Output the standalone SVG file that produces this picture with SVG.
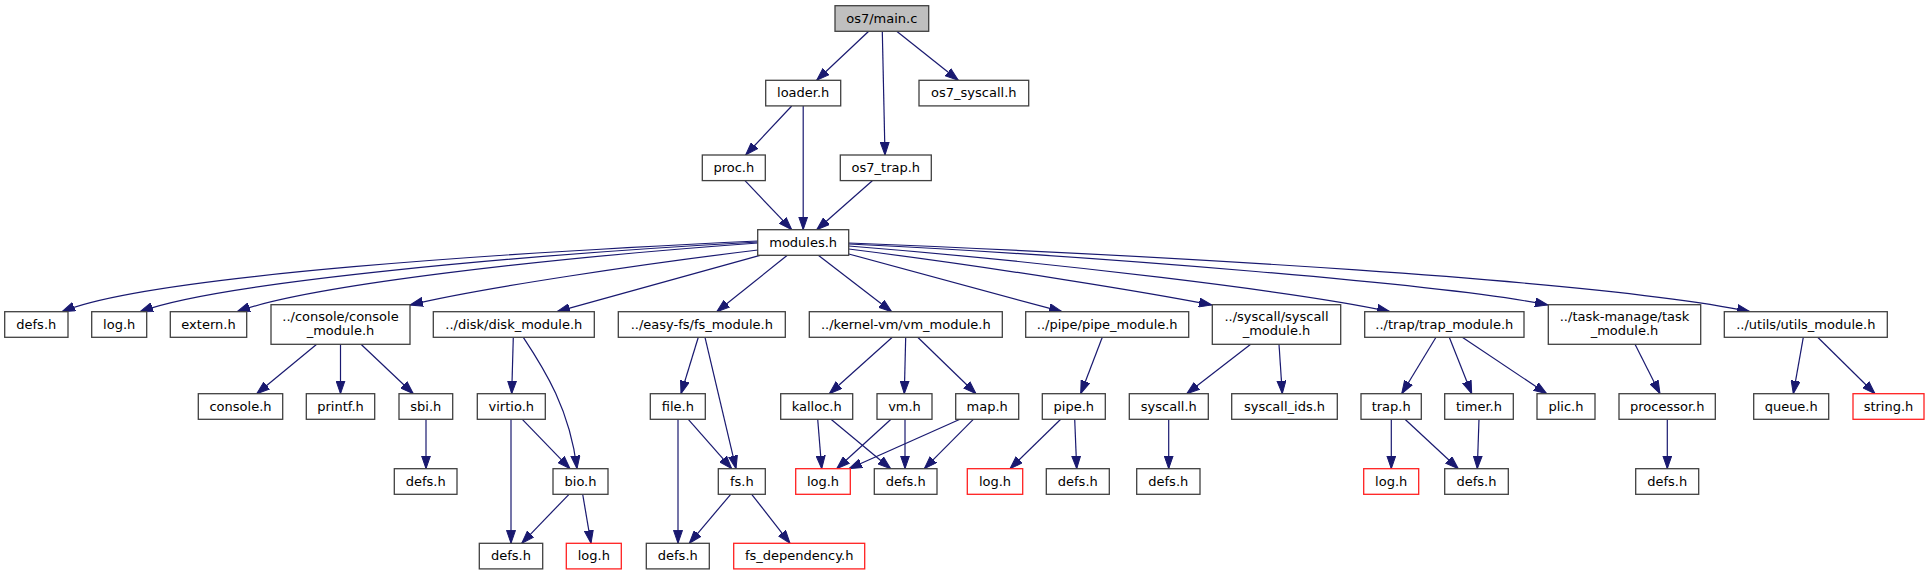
<svg xmlns="http://www.w3.org/2000/svg" width="1929" height="575" viewBox="0 0 1929 575">
<style>
.n rect{fill:#fff;stroke:#404040;stroke-width:1.3}
.n.m rect{fill:#bfbfbf}
.n.r rect{stroke:#ff2020}
.n text{font-family:"DejaVu Sans",sans-serif;font-size:13px;fill:#000;text-anchor:middle}
.e path{fill:none;stroke:#191970;stroke-width:1.2;marker-end:url(#ah)}
</style>
<defs>
<marker id="ah" markerUnits="userSpaceOnUse" viewBox="0 0 13 10" refX="13" refY="5" markerWidth="13" markerHeight="10" orient="auto">
<path d="M0,0.5 L13,5 L0,9.5 z" fill="#191970" stroke="#191970" stroke-width="1"/>
</marker>
</defs>
<rect width="1929" height="575" fill="#fff"/>
<g id="edges" class="e">
<path d="M868.7,31.3 L816.7,80.3"/>
<path d="M882.3,31.3 L885,155"/>
<path d="M896.7,31.3 L958.3,80.3"/>
<path d="M791.7,106 L745.7,155"/>
<path d="M803.2,106 L803.2,229.7"/>
<path d="M745,180.7 L791.7,229.7"/>
<path d="M872.3,180.7 L816.7,229.7"/>
<path d="M758,241 C520,252 150,275 62,311.7"/>
<path d="M758,242 C520,255 220,282 140,311.7"/>
<path d="M758,243 C550,258 310,285 237,311.7"/>
<path d="M758,250 C650,263 480,288 410,305"/>
<path d="M760,255.3 L557,311.7"/>
<path d="M787.3,255.3 L716.7,311.7"/>
<path d="M818.3,255.3 L891.7,311.7"/>
<path d="M848.7,254 L1062,311.7"/>
<path d="M848.7,249 C1000,268 1150,293 1212,305"/>
<path d="M848.7,246 C1050,262 1300,292 1390,311.7"/>
<path d="M848.7,244 C1100,256 1450,285 1548,305"/>
<path d="M848.7,243 C1150,255 1600,280 1750,311.7"/>
<path d="M316.7,344.3 L256.7,393.7"/>
<path d="M340.5,344.3 L340.5,393.7"/>
<path d="M361,344.3 L413.3,393.7"/>
<path d="M426,419.3 L426,468.7"/>
<path d="M513.3,337.3 L511.7,393.7"/>
<path d="M523.3,337.3 C545,370 570,410 577,468.7"/>
<path d="M511,419.3 L511,543.3"/>
<path d="M522.3,419.3 L570,468.7"/>
<path d="M569,494.3 L521.7,543.3"/>
<path d="M582.7,494.3 L591,543.3"/>
<path d="M698.3,337.3 L681,393.7"/>
<path d="M705,337.3 L736,468.7"/>
<path d="M678,419.3 L678,543.3"/>
<path d="M688.3,419.3 L731.7,468.7"/>
<path d="M730.7,494.3 L689.3,543.3"/>
<path d="M751.7,494.3 L790,543.3"/>
<path d="M892.3,337.3 L829.3,393.7"/>
<path d="M905.7,337.3 L904.3,393.7"/>
<path d="M917.7,337.3 L976,393.7"/>
<path d="M817.7,419.3 L821.7,468.7"/>
<path d="M831,419.3 L890.7,468.7"/>
<path d="M891,419.3 L836.7,468.7"/>
<path d="M905,419.3 L905,468.7"/>
<path d="M960,419.3 L849,468.7"/>
<path d="M973.3,419.3 L924.3,468.7"/>
<path d="M1102.3,337.3 L1080.7,393.7"/>
<path d="M1060.7,419.3 L1010,468.7"/>
<path d="M1074.7,419.3 L1076.7,468.7"/>
<path d="M1250.7,344.3 L1186.7,393.7"/>
<path d="M1279,344.3 L1282.3,393.7"/>
<path d="M1168.7,419.3 L1168.7,468.7"/>
<path d="M1436,337.3 L1401.7,393.7"/>
<path d="M1449.3,337.3 L1471.7,393.7"/>
<path d="M1462.3,337.3 L1546.7,393.7"/>
<path d="M1391.3,419.3 L1391.3,468.7"/>
<path d="M1405,419.3 L1458.3,468.7"/>
<path d="M1479,419.3 L1477.3,468.7"/>
<path d="M1635,344.3 L1660,393.7"/>
<path d="M1667.3,419.3 L1667.3,468.7"/>
<path d="M1803.3,337.3 L1793.3,393.7"/>
<path d="M1817.7,337.3 L1875,393.7"/>
</g>
<g id="n_main" class="n m"><rect x="835" y="5.7" width="93.7" height="25.6"/><text x="881.8" y="22.7">os7/main.c</text></g>
<g id="n_loader" class="n"><rect x="765.7" y="80.3" width="75" height="25.6"/><text x="803.2" y="97.3">loader.h</text></g>
<g id="n_os7_syscall" class="n"><rect x="919" y="80.3" width="109.7" height="25.6"/><text x="973.8" y="97.3">os7_syscall.h</text></g>
<g id="n_proc" class="n"><rect x="702.3" y="155" width="63" height="25.6"/><text x="733.8" y="172">proc.h</text></g>
<g id="n_os7_trap" class="n"><rect x="840.3" y="155" width="91" height="25.6"/><text x="885.8" y="172">os7_trap.h</text></g>
<g id="n_modules" class="n"><rect x="757.7" y="229.7" width="91" height="25.6"/><text x="803.2" y="246.7">modules.h</text></g>
<g id="n_defs1" class="n"><rect x="4.7" y="311.7" width="63.3" height="25.6"/><text x="36.3" y="328.7">defs.h</text></g>
<g id="n_log1" class="n"><rect x="91.7" y="311.7" width="55" height="25.6"/><text x="119.2" y="328.7">log.h</text></g>
<g id="n_extern" class="n"><rect x="170.3" y="311.7" width="76.4" height="25.6"/><text x="208.5" y="328.7">extern.h</text></g>
<g id="n_console_mod" class="n"><rect x="271" y="304.7" width="139" height="39.6"/><text x="340.5" y="320.7">../console/console</text><text x="340.5" y="334.7">_module.h</text></g>
<g id="n_disk_mod" class="n"><rect x="433.3" y="311.7" width="161" height="25.6"/><text x="513.8" y="328.7">../disk/disk_module.h</text></g>
<g id="n_fs_mod" class="n"><rect x="618.3" y="311.7" width="167" height="25.6"/><text x="701.8" y="328.7">../easy-fs/fs_module.h</text></g>
<g id="n_vm_mod" class="n"><rect x="809.3" y="311.7" width="193" height="25.6"/><text x="905.8" y="328.7">../kernel-vm/vm_module.h</text></g>
<g id="n_pipe_mod" class="n"><rect x="1025.7" y="311.7" width="163" height="25.6"/><text x="1107.2" y="328.7">../pipe/pipe_module.h</text></g>
<g id="n_syscall_mod" class="n"><rect x="1212.3" y="304.7" width="128.4" height="39.6"/><text x="1276.5" y="320.7">../syscall/syscall</text><text x="1276.5" y="334.7">_module.h</text></g>
<g id="n_trap_mod" class="n"><rect x="1364.7" y="311.7" width="159.3" height="25.6"/><text x="1444.3" y="328.7">../trap/trap_module.h</text></g>
<g id="n_task_mod" class="n"><rect x="1548.3" y="304.7" width="152.4" height="39.6"/><text x="1624.5" y="320.7">../task-manage/task</text><text x="1624.5" y="334.7">_module.h</text></g>
<g id="n_utils_mod" class="n"><rect x="1724.3" y="311.7" width="163" height="25.6"/><text x="1805.8" y="328.7">../utils/utils_module.h</text></g>
<g id="n_console" class="n"><rect x="198.3" y="393.7" width="84.4" height="25.6"/><text x="240.5" y="410.7">console.h</text></g>
<g id="n_printf" class="n"><rect x="306.3" y="393.7" width="68.4" height="25.6"/><text x="340.5" y="410.7">printf.h</text></g>
<g id="n_sbi" class="n"><rect x="399" y="393.7" width="53.7" height="25.6"/><text x="425.8" y="410.7">sbi.h</text></g>
<g id="n_virtio" class="n"><rect x="477.3" y="393.7" width="68" height="25.6"/><text x="511.3" y="410.7">virtio.h</text></g>
<g id="n_file" class="n"><rect x="650.3" y="393.7" width="55" height="25.6"/><text x="677.8" y="410.7">file.h</text></g>
<g id="n_kalloc" class="n"><rect x="780.7" y="393.7" width="72" height="25.6"/><text x="816.7" y="410.7">kalloc.h</text></g>
<g id="n_vm" class="n"><rect x="877" y="393.7" width="55" height="25.6"/><text x="904.5" y="410.7">vm.h</text></g>
<g id="n_map" class="n"><rect x="955.7" y="393.7" width="63" height="25.6"/><text x="987.2" y="410.7">map.h</text></g>
<g id="n_pipe" class="n"><rect x="1042.3" y="393.7" width="63" height="25.6"/><text x="1073.8" y="410.7">pipe.h</text></g>
<g id="n_syscall" class="n"><rect x="1129.3" y="393.7" width="79" height="25.6"/><text x="1168.8" y="410.7">syscall.h</text></g>
<g id="n_syscall_ids" class="n"><rect x="1231.7" y="393.7" width="105.6" height="25.6"/><text x="1284.5" y="410.7">syscall_ids.h</text></g>
<g id="n_trap" class="n"><rect x="1361" y="393.7" width="60.3" height="25.6"/><text x="1391.2" y="410.7">trap.h</text></g>
<g id="n_timer" class="n"><rect x="1444.7" y="393.7" width="68.6" height="25.6"/><text x="1479" y="410.7">timer.h</text></g>
<g id="n_plic" class="n"><rect x="1537" y="393.7" width="58" height="25.6"/><text x="1566" y="410.7">plic.h</text></g>
<g id="n_processor" class="n"><rect x="1619" y="393.7" width="96.3" height="25.6"/><text x="1667.2" y="410.7">processor.h</text></g>
<g id="n_queue" class="n"><rect x="1753.7" y="393.7" width="75" height="25.6"/><text x="1791.2" y="410.7">queue.h</text></g>
<g id="n_string" class="n r"><rect x="1853" y="393.7" width="71" height="25.6"/><text x="1888.5" y="410.7">string.h</text></g>
<g id="n_defs_sbi" class="n"><rect x="394.3" y="468.7" width="62.7" height="25.6"/><text x="425.7" y="485.7">defs.h</text></g>
<g id="n_bio" class="n"><rect x="553" y="468.7" width="55" height="25.6"/><text x="580.5" y="485.7">bio.h</text></g>
<g id="n_fs" class="n"><rect x="718.3" y="468.7" width="47" height="25.6"/><text x="741.8" y="485.7">fs.h</text></g>
<g id="n_log_vm" class="n r"><rect x="795.7" y="468.7" width="54.6" height="25.6"/><text x="823" y="485.7">log.h</text></g>
<g id="n_defs_vm" class="n"><rect x="874.3" y="468.7" width="62.7" height="25.6"/><text x="905.7" y="485.7">defs.h</text></g>
<g id="n_log_pipe" class="n r"><rect x="967.3" y="468.7" width="55.4" height="25.6"/><text x="995" y="485.7">log.h</text></g>
<g id="n_defs_pipe" class="n"><rect x="1046.3" y="468.7" width="63" height="25.6"/><text x="1077.8" y="485.7">defs.h</text></g>
<g id="n_defs_syscall" class="n"><rect x="1136.7" y="468.7" width="63.3" height="25.6"/><text x="1168.3" y="485.7">defs.h</text></g>
<g id="n_log_trap" class="n r"><rect x="1363.7" y="468.7" width="55" height="25.6"/><text x="1391.2" y="485.7">log.h</text></g>
<g id="n_defs_trap" class="n"><rect x="1444.7" y="468.7" width="63.6" height="25.6"/><text x="1476.5" y="485.7">defs.h</text></g>
<g id="n_defs_proc" class="n"><rect x="1635.7" y="468.7" width="63" height="25.6"/><text x="1667.2" y="485.7">defs.h</text></g>
<g id="n_defs_disk" class="n"><rect x="479.3" y="543.3" width="63.4" height="25.6"/><text x="511" y="560.3">defs.h</text></g>
<g id="n_log_bio" class="n r"><rect x="566.3" y="543.3" width="55" height="25.6"/><text x="593.8" y="560.3">log.h</text></g>
<g id="n_defs_fs" class="n"><rect x="646.3" y="543.3" width="63" height="25.6"/><text x="677.8" y="560.3">defs.h</text></g>
<g id="n_fs_dep" class="n r"><rect x="733.7" y="543.3" width="131" height="25.6"/><text x="799.2" y="560.3">fs_dependency.h</text></g>
</svg>
